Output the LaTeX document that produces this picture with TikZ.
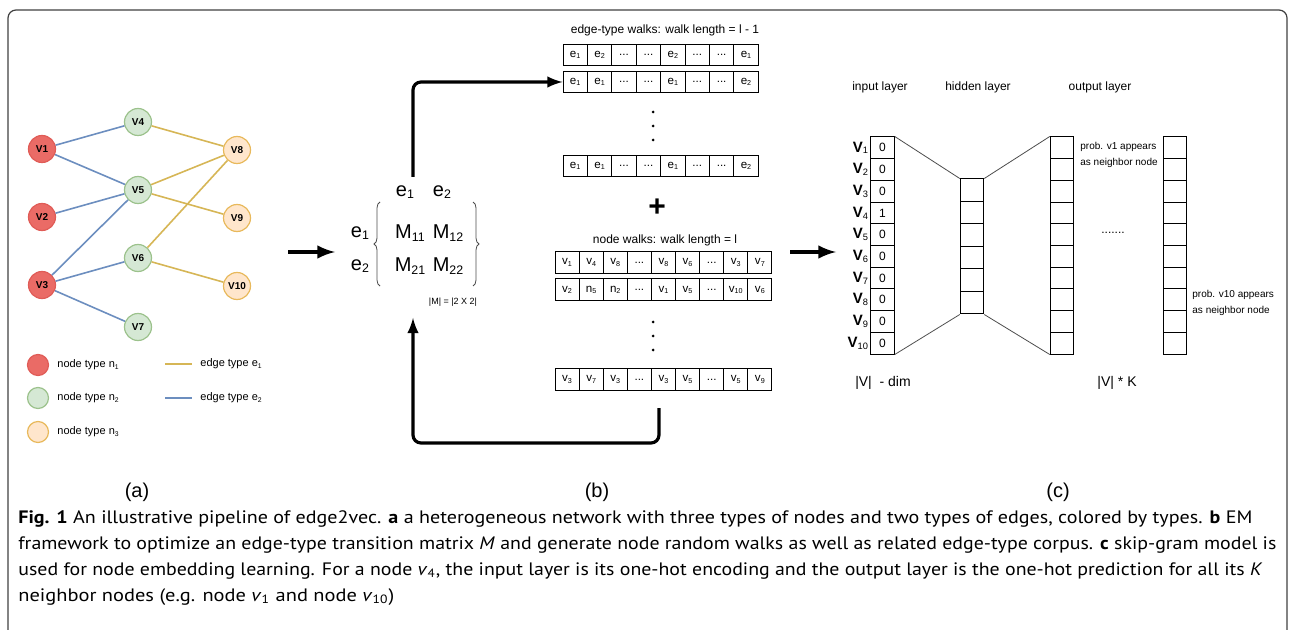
\documentclass[tikz,border=0pt]{standalone}
\usepackage{fontspec}
\setmainfont{Liberation Sans}
\newfontfamily\capfont{PT Sans}
\usetikzlibrary{decorations.pathreplacing}

\definecolor{redfill}{HTML}{EA6B66}
\definecolor{reddraw}{HTML}{E05C57}
\definecolor{greenfill}{HTML}{D5E8D4}
\definecolor{greendraw}{HTML}{9CC28C}
\definecolor{orangefill}{HTML}{FFE6CC}
\definecolor{orangedraw}{HTML}{E8B95C}
\definecolor{edgeone}{HTML}{D6B656}
\definecolor{edgetwo}{HTML}{6C8EBF}

\newcommand{\fsz}[1]{\fontsize{#1}{#1}\selectfont}
\makeatletter
\newcommand{\ix}[1]{\raisebox{-0.12em}{\fontsize{\fpeval{0.62*\f@size}}{1}\selectfont #1}}
\makeatother
\newcommand{\dd}{...}
\newcommand{\capline}[2]{\resizebox{#1pt}{\height}{#2}}

\begin{document}
\begin{tikzpicture}[
	x=0.5pt,
	y=-0.5pt,
	vert/.style={circle,draw,line width=0.6pt,minimum size=13.5pt,inner sep=0pt,font=\fsz{5}\bfseries},
	typea/.style={vert,fill=redfill,draw=reddraw},
	typeb/.style={vert,fill=greenfill,draw=greendraw},
	typec/.style={vert,fill=orangefill,draw=orangedraw},
	keynode/.style={minimum size=10.5pt},
	eone/.style={edgeone,line width=0.8pt},
	etwo/.style={edgetwo,line width=0.8pt},
	legtext/.style={anchor=west,inner sep=0pt,font=\fsz{5.5}},
	bigarr/.style={-latex,line width=2pt},
	looparr/.style={-latex,line width=1.6pt,rounded corners=4pt},
	mtext/.style={inner sep=0pt,font=\fsz{10}},
	brc/.style={decorate,decoration={brace,amplitude=3pt},line width=0.4pt,black!70},
	wtitle/.style={inner sep=0pt,font=\fsz{6}},
	ecell/.style={draw,line width=0.5pt,minimum width=12.2pt,minimum height=10.5pt,inner sep=0pt,font=\fsz{5.8}},
	ncell/.style={ecell,minimum width=12.05pt,minimum height=11pt},
	vdot/.style={circle,fill,inner sep=0pt,minimum size=1.5pt},
	lcell/.style={draw,line width=0.5pt,minimum width=11.75pt,minimum height=10.85pt,inner sep=0pt,font=\fsz{6}},
	hcell/.style={lcell,minimum height=11.25pt},
	vlab/.style={anchor=east,inner sep=0.8pt,font=\fsz{7.5}},
	ptext/.style={anchor=west,align=left,inner sep=0pt,font=\fontsize{5}{8}\selectfont},
	link/.style={line width=0.4pt,black!70},
	captext/.style={anchor=base west,inner sep=0pt,font=\capfont\fsz{9}}
	]
	\useasboundingbox (0,0) rectangle (1294,630);
	\draw[black!75,line width=0.6pt,rounded corners=4pt] (8,630) -- (8,10) -- (1287,10) -- (1287,630);

	\node[typea] (v1) at (42,149) {V1};
	\node[typea] (v2) at (42,217) {V2};
	\node[typea] (v3) at (42,285) {V3};
	\node[typeb] (v4) at (138,122) {V4};
	\node[typeb] (v5) at (138,190) {V5};
	\node[typeb] (v6) at (138,258) {V6};
	\node[typeb] (v7) at (138,327) {V7};
	\node[typec] (v8) at (237,150) {V8};
	\node[typec] (v9) at (237,218) {V9};
	\node[typec] (v10) at (237,286) {V10};
	\foreach \a/\b in {v1/v4,v1/v5,v2/v5,v3/v5,v3/v6,v3/v7}
		\draw[etwo] (\a) -- (\b);
	\foreach \a/\b in {v4/v8,v5/v8,v5/v9,v6/v8,v6/v10}
		\draw[eone] (\a) -- (\b);

	\node[typea,keynode] (ka) at (38,365) {};
	\node[typeb,keynode] (kb) at (38,398) {};
	\node[typec,keynode] (kc) at (38,432) {};
	\node[legtext] (la) at (57,365) {node type n\ix{1}};
	\node[legtext] (lb) at (57,398) {node type n\ix{2}};
	\node[legtext] (lc) at (57,432) {node type n\ix{3}};
	\coordinate (ka1) at (165,364);
	\coordinate (ka2) at (192,364);
	\coordinate (kb1) at (165,398);
	\coordinate (kb2) at (192,398);
	\draw[eone] (ka1) -- (ka2);
	\draw[etwo] (kb1) -- (kb2);
	\node[legtext] (le1) at (200,364) {edge type e\ix{1}};
	\node[legtext] (le2) at (200,398) {edge type e\ix{2}};

	\coordinate (aout) at (288,252);
	\coordinate (bin) at (335,252);
	\draw[bigarr] (aout) -- (bin);

	\node[mtext] (ch1) at (405,192) {e\ix{1}};
	\node[mtext] (ch2) at (442,192) {e\ix{2}};
	\node[mtext] (rh1) at (360,233) {e\ix{1}};
	\node[mtext] (rh2) at (360,266) {e\ix{2}};
	\node[mtext] (m11) at (410,233) {M\ix{11}};
	\node[mtext] (m12) at (448,233) {M\ix{12}};
	\node[mtext] (m21) at (410,266) {M\ix{21}};
	\node[mtext] (m22) at (448,266) {M\ix{22}};
	\draw[brc] (380,286) -- (380,202);
	\draw[brc] (473,202) -- (473,286);
	\node[inner sep=0pt,font=\fsz{4.5}] (msize) at (453,302) {|M| = |2 X 2|};

	\node[wtitle] (etitle) at (665,30) {edge-type walks: walk length = l - 1};
	\foreach \lab [count=\i] in {e\ix{1},e\ix{2},\dd,\dd,e\ix{2},\dd,\dd,e\ix{1}}
		\node[ecell] (ewa\i) at (550.8+24.4*\i,55) {\lab};
	\foreach \lab [count=\i] in {e\ix{1},e\ix{1},\dd,\dd,e\ix{1},\dd,\dd,e\ix{2}}
		\node[ecell] (ewb\i) at (550.8+24.4*\i,82) {\lab};
	\foreach \lab [count=\i] in {e\ix{1},e\ix{1},\dd,\dd,e\ix{1},\dd,\dd,e\ix{2}}
		\node[ecell] (ewc\i) at (550.8+24.4*\i,166) {\lab};
	\foreach \y [count=\i] in {112,126,140}
		\node[vdot] (edot\i) at (653,\y) {};

	\coordinate (mtop) at (413,177);
	\draw[looparr] (mtop) |- (ewb1.west);

	\node[font=\fsz{15}\bfseries,inner sep=0pt] (plus) at (657,208) {+};

	\node[wtitle] (ntitle) at (665,240) {node walks: walk length = l};
	\foreach \lab [count=\i] in {v\ix{1},v\ix{4},v\ix{8},\dd,v\ix{8},v\ix{6},\dd,v\ix{3},v\ix{7}}
		\node[ncell] (nwa\i) at (542.95+24.1*\i,262.5) {\lab};
	\foreach \lab [count=\i] in {v\ix{2},n\ix{5},n\ix{2},\dd,v\ix{1},v\ix{5},\dd,v\ix{10},v\ix{6}}
		\node[ncell] (nwb\i) at (542.95+24.1*\i,290) {\lab};
	\foreach \lab [count=\i] in {v\ix{3},v\ix{7},v\ix{3},\dd,v\ix{3},v\ix{5},\dd,v\ix{5},v\ix{9}}
		\node[ncell] (nwc\i) at (542.95+24.1*\i,379.5) {\lab};
	\foreach \y [count=\i] in {322,336,350}
		\node[vdot] (ndot\i) at (653,\y) {};

	\coordinate (lstart) at (659,408);
	\coordinate (lend) at (413,318);
	\draw[looparr] (lstart) -- ++(0,35) -| (lend);

	\coordinate (bout) at (790,252);
	\coordinate (cin) at (836,252);
	\draw[bigarr] (bout) -- (cin);

	\node[wtitle] (tin) at (880,87) {input layer};
	\node[wtitle] (thid) at (978,87) {hidden layer};
	\node[wtitle] (tout) at (1100,87) {output layer};
	\foreach \val [count=\i] in {0,0,0,1,0,0,0,0,0,0}{
		\node[lcell] (in\i) at (882.5,126.15+21.7*\i) {\val};
		\node[vlab] (vl\i) at (870,126.15+21.7*\i) {\textbf{V}\ix{\i}};
		\node[lcell] (oa\i) at (1062,126.15+21.7*\i) {};
		\node[lcell] (ob\i) at (1175,126.15+21.7*\i) {};
	}
	\foreach \i in {1,...,6}
		\node[hcell] (hid\i) at (972,167.75+22.5*\i) {};
	\draw[link] (in1.north east) -- (hid1.north west);
	\draw[link] (in10.south east) -- (hid6.south west);
	\draw[link] (hid1.north east) -- (oa1.north west);
	\draw[link] (hid6.south east) -- (oa10.south west);

	\node[ptext] (pa) at (1080,155) {prob. v1 appears\\as neighbor node};
	\node[ptext] (pb) at (1192,303) {prob. v10 appears\\as neighbor node};
	\node[inner sep=0pt,font=\fsz{6}] (odots) at (1113,233) {.......};
	\node[inner sep=0pt,font=\fsz{7}] (vdim) at (883,383) {|V|~ - dim};
	\node[inner sep=0pt,font=\fsz{7}] (vk) at (1117,383) {|V| * K};

	\node[inner sep=0pt,font=\fsz{10}] (pla) at (137,492) {(a)};
	\node[inner sep=0pt,font=\fsz{10}] (plb) at (597,492) {(b)};
	\node[inner sep=0pt,font=\fsz{10}] (plc) at (1058,492) {(c)};

	\node[captext] (cap1) at (18,523) {\capline{617}{\textbf{Fig. 1} An illustrative pipeline of edge2vec. \textbf{a} a heterogeneous network with three types of nodes and two types of edges, colored by types. \textbf{b} EM}};
	\node[captext] (cap2) at (18,549) {\capline{629}{framework to optimize an edge-type transition matrix \textit{M} and generate node random walks as well as related edge-type corpus. \textbf{c} skip-gram model is}};
	\node[captext] (cap3) at (18,575) {\capline{622}{used for node embedding learning. For a node \textit{v}\textsubscript{4}, the input layer is its one-hot encoding and the output layer is the one-hot prediction for all its \textit{K}}};
	\node[captext] (cap4) at (18,601) {\capline{188}{neighbor nodes (e.g. node \textit{v}\textsubscript{1} and node \textit{v}\textsubscript{10})}};
\end{tikzpicture}
\end{document}
